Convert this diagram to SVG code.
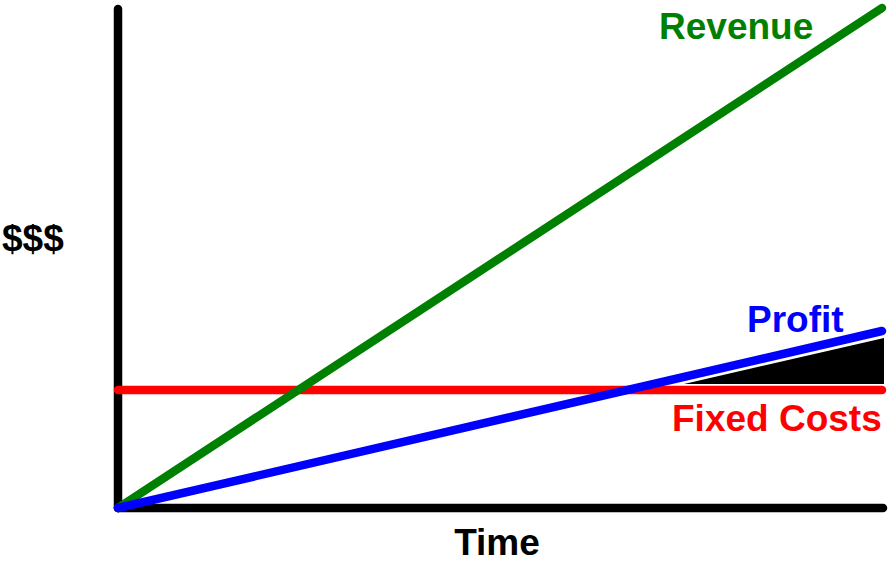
<svg xmlns="http://www.w3.org/2000/svg" width="890" height="571" viewBox="0 0 890 571">
<style>
.lbl{font-family:"Liberation Sans",Arial,sans-serif;font-weight:bold;font-size:37px}
.ln{stroke-width:8.5;stroke-linecap:round;fill:none}
</style>
<rect width="890" height="571" fill="#fff"/>
<g id="axes">
<line class="ln" x1="118" y1="9" x2="118" y2="508" stroke="#000"/>
<line class="ln" x1="118" y1="508" x2="883" y2="508" stroke="#000"/>
</g>
<g id="profit-area">
<polygon points="684,384 884,338 884,384" fill="#000"/>
</g>
<g id="connectors">
<line class="ln" x1="118" y1="390" x2="882" y2="390" stroke="#ff0000"/>
<line class="ln" x1="118" y1="508" x2="882" y2="8" stroke="#008000"/>
<line class="ln" x1="118" y1="508" x2="882" y2="331" stroke="#0000ff"/>
</g>
<g id="revenue"><text class="lbl" x="659" y="39" fill="#008000">Revenue</text></g>
<g id="profit"><text class="lbl" x="747" y="332" fill="#0000ff">Profit</text></g>
<g id="fixed-costs"><text class="lbl" x="672" y="431" fill="#ff0000">Fixed Costs</text></g>
<g id="y-label"><text class="lbl" x="2" y="251" fill="#000">$$$</text></g>
<g id="x-label"><text class="lbl" x="497" y="555" fill="#000" text-anchor="middle">Time</text></g>
</svg>
